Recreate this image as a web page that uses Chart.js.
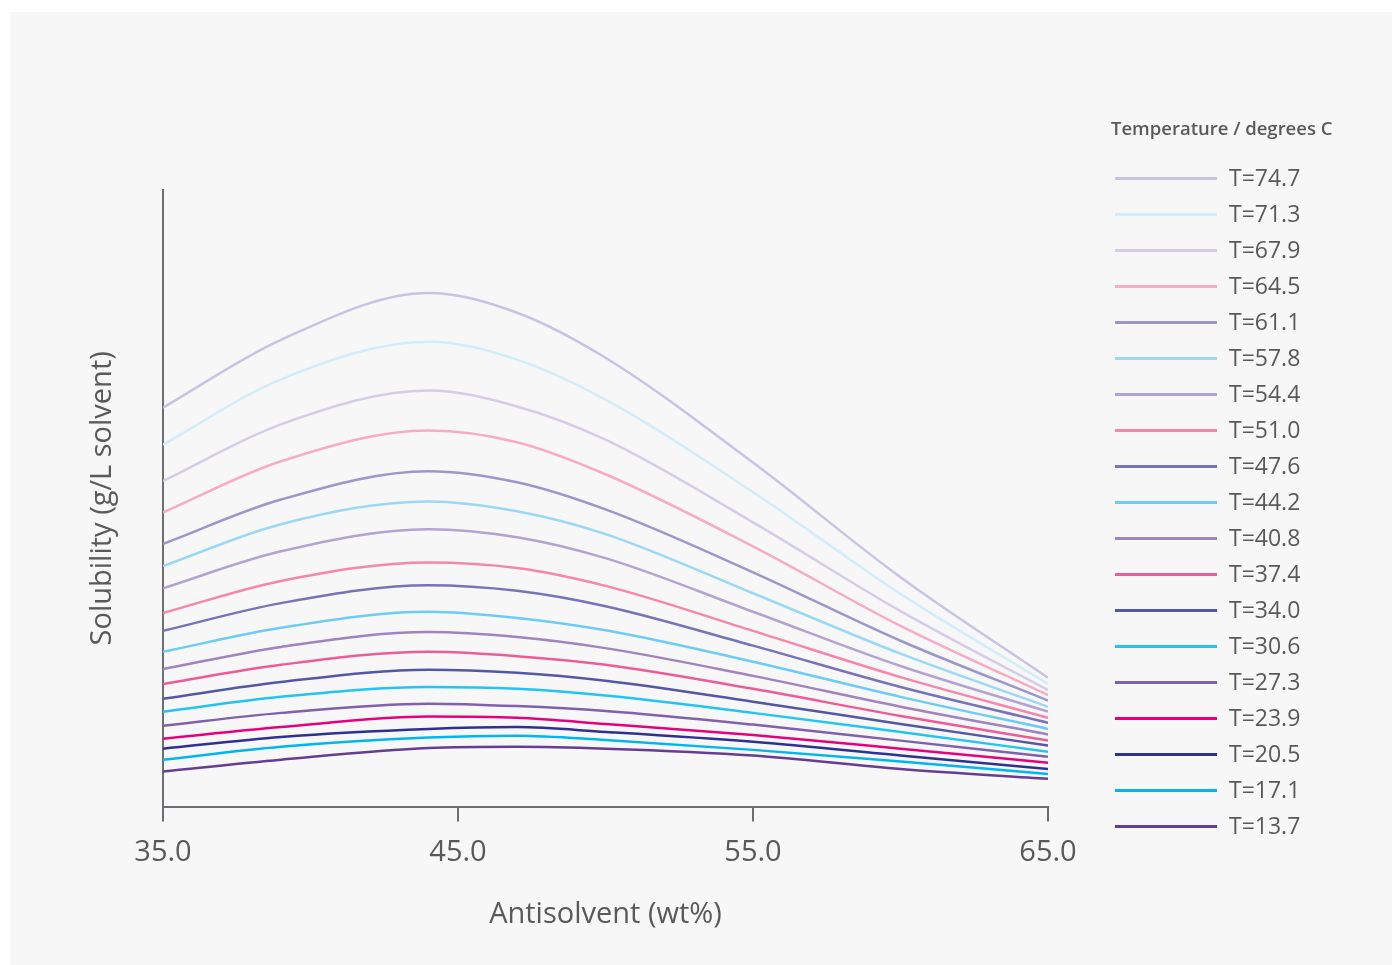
<!DOCTYPE html>
<html>
<head>
<meta charset="utf-8">
<title>Solubility vs antisolvent</title>
<script src="https://cdn.jsdelivr.net/npm/chart.js@4.4.1/dist/chart.umd.min.js"></script>
<style>
  html, body { margin: 0; padding: 0; background: #ffffff; }
  body { width: 1392px; height: 965px; position: relative; overflow: hidden; font-family: "Open Sans", "Noto Sans", sans-serif; }
  #panel { position: absolute; left: 10px; top: 12px; right: 0; bottom: 0; background: #f7f7f7; }
  #wrap { position: absolute; left: 0; top: 0; width: 1392px; height: 965px; }
  #legend { position: absolute; left: 1111px; top: 114px; color: #58595b; }
  #legend .title { font-size: 18.5px; font-weight: 600; height: 28px; line-height: 28px; margin-bottom: 35px; }
  #legend .item { position: relative; height: 36px; }
  #legend .swatch { position: absolute; left: 4px; top: 0px; width: 102px; height: 3px; }
  #legend .label { position: absolute; left: 118px; top: -15px; font-size: 23px; line-height: 30px; }
</style>
</head>
<body>
<div id="panel"></div>
<div id="wrap"><canvas id="chart" width="1392" height="965"></canvas></div>
<div id="legend"></div>
<script>
// Antisolvent content (wt%) where the curves were read
const antisolvent = [35, 39, 44, 47, 50, 55, 60, 65];

// Temperatures, highest first (legend order)
const temps = ['74.7', '71.3', '67.9', '64.5', '61.1', '57.8', '54.4', '51.0', '47.6',
               '44.2', '40.8', '37.4', '34.0', '30.6', '27.3', '23.9', '20.5', '17.1', '13.7'];

const lineColors = ['#c9c3e3', '#d3ecfa', '#d6cce8', '#f7abc6', '#9b97ca', '#9ad8f5', '#b3a3d0',
                    '#f487ab', '#7674b7', '#6cccf4', '#a083bf', '#ee5c95', '#5457a4', '#22c5f2',
                    '#8161aa', '#e6007e', '#2e3192', '#00b6ef', '#663d91'];

// Solubility (relative units, y axis has no tick values) per temperature
const s747 = [64.7, 75.7, 83.3, 80.1, 72.8, 55.8, 37.2, 20.9];
const s713 = [58.7, 69.3, 75.4, 72.5, 66.0, 51.0, 34.5, 19.9];
const s679 = [52.8, 62.0, 67.5, 64.9, 59.5, 46.1, 31.7, 18.9];
const s645 = [47.7, 56.0, 61.0, 59.1, 53.9, 42.2, 29.3, 18.1];
const s611 = [42.6, 49.8, 54.4, 52.6, 48.2, 38.0, 26.9, 17.2];
const s578 = [39.0, 45.8, 49.5, 47.9, 44.2, 34.6, 24.8, 16.2];
const s544 = [35.4, 41.4, 45.0, 43.7, 40.3, 31.6, 22.8, 15.4];
const s510 = [31.4, 36.6, 39.6, 38.7, 35.8, 28.5, 21.0, 14.4];
const s476 = [28.5, 33.0, 35.9, 35.0, 32.5, 26.1, 19.4, 13.6];
const s442 = [25.1, 29.0, 31.6, 30.6, 28.6, 23.5, 17.8, 12.6];
const s408 = [22.3, 25.9, 28.3, 27.5, 25.7, 21.2, 16.2, 11.7];
const s374 = [19.9, 23.0, 25.1, 24.4, 23.0, 19.1, 14.7, 10.7];
const s340 = [17.5, 20.2, 22.2, 21.7, 20.4, 17.0, 13.4, 9.9];
const s306 = [15.4, 17.8, 19.4, 19.1, 18.0, 15.2, 12.1, 8.9];
const s273 = [13.1, 15.2, 16.7, 16.3, 15.5, 13.3, 10.7, 8.1];
const s239 = [11.0, 12.9, 14.6, 14.4, 13.4, 11.6, 9.4, 7.1];
const s205 = [9.4, 11.3, 12.6, 12.9, 12.1, 10.5, 8.3, 6.1];
const s171 = [7.6, 9.7, 11.2, 11.5, 10.8, 9.2, 7.3, 5.3];
const s137 = [5.7, 7.6, 9.5, 9.7, 9.4, 8.3, 6.1, 4.5];

const solubility = [s747, s713, s679, s645, s611, s578, s544, s510, s476, s442,
                    s408, s374, s340, s306, s273, s239, s205, s171, s137];

const xTicks = [35, 45, 55, 65];

const textColor = '#58595b';
const axisColor = '#6d6e71';
const fontFamily = '"Open Sans", "Noto Sans", sans-serif';

const datasets = temps.map((t, i) => ({
    label: 'T=' + t,
    data: antisolvent.map((x, j) => ({ x: x, y: solubility[i][j] })),
    borderColor: lineColors[i],
    borderWidth: 2.5,
    pointRadius: 0,
    fill: false,
    cubicInterpolationMode: 'monotone'
}));

new Chart(document.getElementById('chart'), {
    type: 'line',
    data: { datasets: datasets },
    options: {
        responsive: false,
        animation: false,
        layout: { padding: { left: 72, top: 190, right: 344, bottom: 22.6 } },
        plugins: { legend: { display: false }, tooltip: { enabled: false } },
        scales: {
            x: {
                type: 'linear',
                min: 35,
                max: 65,
                afterBuildTicks: axis => { axis.ticks = xTicks.map(v => ({ value: v })); },
                border: { display: true, color: axisColor, width: 2 },
                grid: { display: true, drawOnChartArea: false, drawTicks: true, tickLength: 15, color: axisColor, lineWidth: 2 },
                ticks: {
                    padding: 14,
                    color: textColor,
                    font: { family: fontFamily, size: 29 },
                    callback: v => v.toFixed(1)
                },
                title: {
                    display: true,
                    text: 'Antisolvent (wt%)',
                    color: textColor,
                    font: { family: fontFamily, size: 29 },
                    padding: { top: 13.2, bottom: 10 }
                }
            },
            y: {
                min: 0,
                max: 100,
                border: { display: true, color: axisColor, width: 2 },
                grid: { display: false, drawTicks: false },
                ticks: { display: false },
                title: {
                    display: true,
                    text: 'Solubility (g/L solvent)',
                    color: textColor,
                    font: { family: fontFamily, size: 29 },
                    padding: { top: 13.6, bottom: 42.6 }
                }
            }
        }
    }
});

// Legend built from the same arrays
const legend = document.getElementById('legend');
legend.innerHTML = '<div class="title">Temperature / degrees C</div>' +
    temps.map((t, i) => `
        <div class="item">
            <div class="swatch" style="background:${lineColors[i]}"></div>
            <div class="label">T=${t}</div>
        </div>`).join('');
</script>
</body>
</html>
